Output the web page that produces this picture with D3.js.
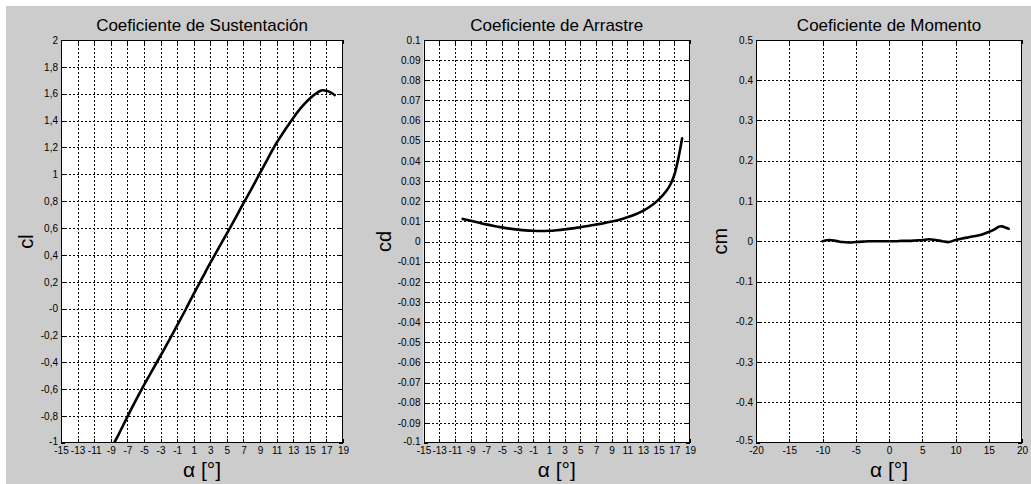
<!DOCTYPE html>
<html>
<head>
<meta charset="utf-8">
<script src="https://cdn.jsdelivr.net/npm/d3@7"></script>
<style>
  body { margin: 0; background: #fff; }
  svg { display: block; }
  text { font-family: "Liberation Sans", Arial, sans-serif; fill: #000; }
</style>
</head>
<body>
<svg id="fig" width="1031" height="484"></svg>
<script>
// Angle of attack (degrees) shared by the three polars
const alpha = [-10, -9, -8, -7, -6, -5, -4, -3, -2, -1, 0, 1, 2, 3, 4, 5, 6, 7, 8,
               9, 10, 11, 12, 13, 14, 15, 16, 16.5, 17, 17.5, 18];

// Lift coefficient
const clValues = [-1.15, -1.045, -0.93, -0.805, -0.685, -0.57, -0.46, -0.35, -0.24, -0.125,
                  -0.01, 0.11, 0.225, 0.34, 0.45, 0.56, 0.67, 0.785, 0.895, 1.01,
                  1.125, 1.235, 1.33, 1.42, 1.50, 1.565, 1.612, 1.626, 1.622, 1.61, 1.59];

// Drag coefficient
const cdValues = [0.0112, 0.0103, 0.0094, 0.0085, 0.0077, 0.0070, 0.0064, 0.0059, 0.0055, 0.0053,
                  0.0052, 0.0053, 0.0056, 0.0060, 0.0065, 0.0071, 0.0077, 0.0084, 0.0091, 0.0099,
                  0.0108, 0.0120, 0.0134, 0.0152, 0.0176, 0.0208, 0.0252, 0.0283, 0.0330, 0.0410, 0.0512];

// Moment coefficient
const cmValues = [0.000, 0.003, 0.001, -0.002, -0.003, -0.002, -0.001, 0.000, 0.000, 0.000,
                  0.000, 0.000, 0.001, 0.001, 0.002, 0.003, 0.005, 0.003, 0.000, -0.002,
                  0.003, 0.007, 0.010, 0.013, 0.017, 0.023, 0.031, 0.036, 0.037, 0.034, 0.031];

// Tick values and labels
const alphaTicksFine = [-15, -13, -11, -9, -7, -5, -3, -1, 1, 3, 5, 7, 9, 11, 13, 15, 17, 19];
const alphaTicksCoarse = [-20, -15, -10, -5, 0, 5, 10, 15, 20];

const clTicks = [-1, -0.8, -0.6, -0.4, -0.2, 0, 0.2, 0.4, 0.6, 0.8, 1, 1.2, 1.4, 1.6, 1.8, 2];
const clTickLabels = ["-1", "-0,8", "-0,6", "-0,4", "-0,2", "-0", "0,2", "0,4", "0,6", "0,8",
                      "1", "1,2", "1,4", "1,6", "1,8", "2"];

const cdTicks = [-0.1, -0.09, -0.08, -0.07, -0.06, -0.05, -0.04, -0.03, -0.02, -0.01, 0,
                 0.01, 0.02, 0.03, 0.04, 0.05, 0.06, 0.07, 0.08, 0.09, 0.1];
const cdTickLabels = ["-0.1", "-0.09", "-0.08", "-0.07", "-0.06", "-0.05", "-0.04", "-0.03", "-0.02", "-0.01", "0",
                      "0.01", "0.02", "0.03", "0.04", "0.05", "0.06", "0.07", "0.08", "0.09", "0.1"];

const cmTicks = [-0.5, -0.4, -0.3, -0.2, -0.1, 0, 0.1, 0.2, 0.3, 0.4, 0.5];
const cmTickLabels = ["-0.5", "-0.4", "-0.3", "-0.2", "-0.1", "0", "0.1", "0.2", "0.3", "0.4", "0.5"];

const panels = [
  { title: "Coeficiente de Sustentación", ylabel: "cl", values: clValues,
    xDomain: [-15, 19], xTicks: alphaTicksFine, yDomain: [-1, 2], yTicks: clTicks, yLabels: clTickLabels,
    box: { left: 61, right: 343, top: 40, bottom: 443 }, ylabelX: 26 },
  { title: "Coeficiente de Arrastre", ylabel: "cd", values: cdValues,
    xDomain: [-15, 19], xTicks: alphaTicksFine, yDomain: [-0.1, 0.1], yTicks: cdTicks, yLabels: cdTickLabels,
    box: { left: 423.5, right: 690, top: 40, bottom: 443 }, ylabelX: 384 },
  { title: "Coeficiente de Momento", ylabel: "cm", values: cmValues,
    xDomain: [-20, 20], xTicks: alphaTicksCoarse, yDomain: [-0.5, 0.5], yTicks: cmTicks, yLabels: cmTickLabels,
    box: { left: 756, right: 1022, top: 40, bottom: 442.5 }, ylabelX: 720 }
];

const svg = d3.select("#fig");

// figure background
svg.append("rect").attr("width", 1031).attr("height", 484).attr("fill", "#fff");
svg.append("rect").attr("x", 6).attr("y", 6).attr("width", 1025).attr("height", 478).attr("fill", "#cccccc");

const tickLen = 4;

panels.forEach((p, i) => {
  const b = p.box;
  const x = d3.scaleLinear().domain(p.xDomain).range([b.left, b.right]);
  const y = d3.scaleLinear().domain(p.yDomain).range([b.bottom, b.top]);
  const g = svg.append("g");

  // plot area
  g.append("rect").attr("x", b.left).attr("y", b.top)
    .attr("width", b.right - b.left).attr("height", b.bottom - b.top).attr("fill", "#fff");

  // dotted grid
  const grid = g.append("g").attr("stroke", "#000").attr("stroke-width", 1)
    .attr("stroke-dasharray", "2,2").attr("shape-rendering", "crispEdges");
  grid.selectAll("line.v").data(p.xTicks.slice(1, -1)).join("line").attr("class", "v")
    .attr("x1", d => Math.round(x(d)) + 0.5).attr("x2", d => Math.round(x(d)) + 0.5)
    .attr("y1", b.top).attr("y2", b.bottom);
  grid.selectAll("line.h").data(p.yTicks.slice(1, -1)).join("line").attr("class", "h")
    .attr("y1", d => Math.round(y(d)) + 0.5).attr("y2", d => Math.round(y(d)) + 0.5)
    .attr("x1", b.left).attr("x2", b.right);

  // inward tick marks on all four sides
  const ticks = g.append("g").attr("stroke", "#000").attr("stroke-width", 1).attr("shape-rendering", "crispEdges");
  p.xTicks.forEach(d => {
    const xx = Math.round(x(d)) + 0.5;
    ticks.append("line").attr("x1", xx).attr("x2", xx).attr("y1", b.bottom).attr("y2", b.bottom - tickLen);
    ticks.append("line").attr("x1", xx).attr("x2", xx).attr("y1", b.top).attr("y2", b.top + tickLen);
  });
  p.yTicks.forEach(d => {
    const yy = Math.round(y(d)) + 0.5;
    ticks.append("line").attr("y1", yy).attr("y2", yy).attr("x1", b.left).attr("x2", b.left + tickLen);
    ticks.append("line").attr("y1", yy).attr("y2", yy).attr("x1", b.right).attr("x2", b.right - tickLen);
  });

  // tick labels through d3 axes
  const xAxis = d3.axisBottom(x).tickValues(p.xTicks).tickSize(0).tickPadding(4)
    .tickFormat(d => String(d));
  const gx = g.append("g").attr("transform", `translate(0,${b.bottom})`).call(xAxis);
  const yAxis = d3.axisLeft(y).tickValues(p.yTicks).tickSize(0).tickPadding(3)
    .tickFormat((d, k) => p.yLabels[k]);
  const gy = g.append("g").attr("transform", `translate(${b.left},0)`).call(yAxis);
  [gx, gy].forEach(a => {
    a.select(".domain").remove();
    a.selectAll("text").attr("font-family", "Liberation Sans, Arial, sans-serif")
      .attr("font-size", 10).attr("fill", "#111");
  });
  // lowest y label sits just above the x labels
  gy.selectAll(".tick").filter((d, k) => k === 0).select("text").attr("dy", "0.1em");

  // axes box
  g.append("rect").attr("x", b.left + 0.5).attr("y", b.top + 0.5)
    .attr("width", b.right - b.left - 1).attr("height", b.bottom - b.top - 1)
    .attr("fill", "none").attr("stroke", "#000").attr("stroke-width", 1).attr("shape-rendering", "crispEdges");

  // data curve, clipped to the axes
  const clipId = "clip" + i;
  svg.append("clipPath").attr("id", clipId).append("rect")
    .attr("x", b.left).attr("y", b.top).attr("width", b.right - b.left).attr("height", b.bottom - b.top);
  const line = d3.line().x((d, k) => x(alpha[k])).y(d => y(d)).curve(d3.curveCatmullRom.alpha(0.5));
  g.append("path").datum(p.values).attr("d", line)
    .attr("clip-path", `url(#${clipId})`)
    .attr("fill", "none").attr("stroke", "#000").attr("stroke-width", 2.6)
    .attr("stroke-linejoin", "round").attr("stroke-linecap", "round");

  const cx = (b.left + b.right) / 2;
  // title
  g.append("text").attr("x", cx).attr("y", 31).attr("text-anchor", "middle")
    .attr("font-size", 17).text(p.title);
  // x label
  g.append("text").attr("x", cx).attr("y", 477).attr("text-anchor", "middle")
    .attr("font-size", 21).text("α [°]");
  // y label
  g.append("text").attr("transform", `translate(${p.ylabelX},${(b.top + b.bottom) / 2}) rotate(-90)`)
    .attr("text-anchor", "middle").attr("font-size", 20).attr("dy", "0.35em").text(p.ylabel);
});
</script>
</body>
</html>
